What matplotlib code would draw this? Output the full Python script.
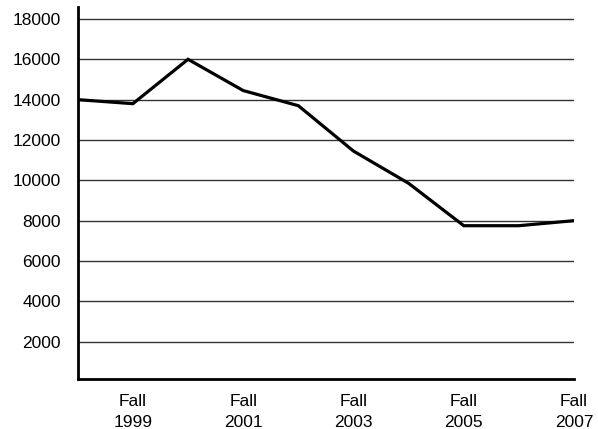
import matplotlib
matplotlib.use("Agg")
import matplotlib.pyplot as plt

plt.rcParams['font.family'] = ['Liberation Sans', 'DejaVu Sans']

years = [1998, 1999, 2000, 2001, 2002, 2003, 2004, 2005, 2006, 2007]
values = [14000, 13800, 16000, 14450, 13700, 11450, 9850, 7750, 7750, 8000]
tick_years = [1999, 2001, 2003, 2005, 2007]
yticks = [2000, 4000, 6000, 8000, 10000, 12000, 14000, 16000, 18000]

fig = plt.figure(figsize=(5.98, 4.29), dpi=100)
ax = fig.add_axes([0.130, 0.1166, 0.830, 0.8674])

for y in yticks:
    ax.axhline(y, color="#333333", linewidth=1.0, zorder=1)

ax.plot(years, values, color="black", linewidth=2.3, zorder=3, solid_joinstyle="miter")

ax.set_xlim(1998, 2007)
ax.set_ylim(150, 18600)
ax.set_yticks(yticks)
ax.set_yticklabels([str(v) for v in yticks], fontsize=12.5)
ax.set_xticks(tick_years)
ax.set_xticklabels([f"Fall\n{y}" for y in tick_years], fontsize=12.5, linespacing=1.45)
ax.tick_params(axis="both", length=0)
ax.tick_params(axis="y", pad=12)
ax.tick_params(axis="x", pad=11)

for s in ["top", "right"]:
    ax.spines[s].set_visible(False)
for s in ["left", "bottom"]:
    ax.spines[s].set_linewidth(2)
    ax.spines[s].set_color("black")

fig.savefig("out.png", dpi=100)
